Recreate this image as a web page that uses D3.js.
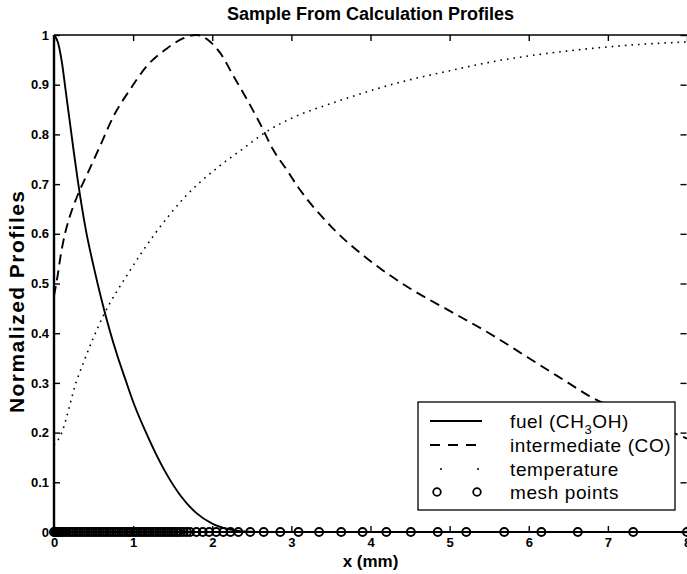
<!DOCTYPE html>
<html>
<head>
<meta charset="utf-8">
<script src="https://cdn.jsdelivr.net/npm/d3@7"></script>
<style>
html,body{margin:0;padding:0;background:#fff;}
svg{display:block;}
text{font-family:"Liberation Sans",Arial,Helvetica,sans-serif;fill:#000;}
</style>
</head>
<body>
<svg id="chart" width="687" height="574"></svg>
<script>
// ---- data ----
const xTicks = [0,1,2,3,4,5,6,7,8];
const xTickLabels = ["0","1","2","3","4","5","6","7","8"];
const yTicks = [0,0.1,0.2,0.3,0.4,0.5,0.6,0.7,0.8,0.9,1];
const yTickLabels = ["0","0.1","0.2","0.3","0.4","0.5","0.6","0.7","0.8","0.9","1"];

const fuelX = [0,0.05,0.1,0.15,0.2,0.25,0.3,0.4,0.5,0.6,0.7,0.8,0.9,1.0,1.2,1.4,1.6,1.8,2.0,2.2,2.4,2.7,3.5,5,6.5,8];
const fuelY = [1,0.985,0.945,0.885,0.825,0.765,0.708,0.61,0.535,0.468,0.408,0.355,0.308,0.262,0.187,0.123,0.073,0.038,0.017,0.006,0.001,0,0,0,0,0];

const coX = [0,0.05,0.076,0.14,0.2,0.31,0.42,0.58,0.75,0.96,1.17,1.42,1.63,1.8,1.97,2.1,2.27,2.44,2.6,2.77,2.94,3.08,3.5,4,4.5,5,5.5,6,6.5,6.75,7.3,8];
const coY = [0.475,0.52,0.548,0.601,0.635,0.682,0.72,0.776,0.836,0.89,0.937,0.972,0.993,1.0,0.987,0.964,0.917,0.87,0.823,0.769,0.729,0.695,0.615,0.545,0.49,0.445,0.40,0.35,0.30,0.275,0.235,0.188];

const tempX = [0,0.076,0.29,0.37,0.62,0.94,1.28,1.66,2.08,2.37,2.69,3.11,3.5,4,4.5,5,5.5,6,6.5,7,7.5,8];
const tempY = [0.175,0.192,0.306,0.34,0.434,0.521,0.601,0.675,0.735,0.769,0.806,0.84,0.862,0.888,0.91,0.928,0.945,0.958,0.968,0.976,0.982,0.986];

const meshX = [0,0.01,0.02,0.035,0.05,0.07,0.09,0.11,0.13,0.16,0.19,0.22,0.25,0.28,0.31,0.34,0.37,0.40,0.43,0.46,0.49,0.52,0.55,0.58,0.61,0.64,0.67,0.70,0.73,0.76,0.79,0.82,0.85,0.88,0.91,0.94,0.97,1.0,1.03,1.06,1.09,1.12,1.15,1.18,1.21,1.24,1.27,1.30,1.33,1.36,1.39,1.42,1.45,1.48,1.51,1.54,1.57,1.60,1.64,1.68,1.72,1.80,1.88,1.96,2.05,2.14,2.23,2.33,2.48,2.65,2.86,3.09,3.35,3.63,3.90,4.20,4.51,4.85,5.21,5.69,6.16,6.62,7.32,8.0];

const legendLabels = ["fuel (CH", "intermediate (CO)", "temperature", "mesh points"];

// ---- layout ----
const svg = d3.select("#chart");
const L = 54, R = 687, T = 35, B = 532;
const x = d3.scaleLinear().domain([0,8]).range([L,R]);
const y = d3.scaleLinear().domain([0,1]).range([B,T]);

const plot = svg.append("g");
const line = (xs, ys, curve) => d3.line().x(d=>x(d[0])).y(d=>y(d[1])).curve(curve)(xs.map((v,i)=>[v,ys[i]]));

// temperature dotted
plot.append("path").attr("d", line(tempX,tempY,d3.curveMonotoneX))
  .attr("fill","none").attr("stroke","#000").attr("stroke-width",1.6)
  .attr("stroke-dasharray","1.6 5");
// intermediate dashed
plot.append("path").attr("d", line(coX,coY,d3.curveMonotoneX))
  .attr("fill","none").attr("stroke","#000").attr("stroke-width",1.9)
  .attr("stroke-dasharray","10 6");
// fuel solid
plot.append("path").attr("d", line(fuelX,fuelY,d3.curveMonotoneX))
  .attr("fill","none").attr("stroke","#000").attr("stroke-width",1.9);

// mesh points
plot.selectAll("circle.mesh").data(meshX).enter().append("circle")
  .attr("class","mesh").attr("cx",d=>x(d)).attr("cy",y(0)).attr("r",4)
  .attr("fill","none").attr("stroke","#000").attr("stroke-width",1.9);

// ---- axes ----
const fontTick = "bold 13px 'Liberation Sans', Arial, sans-serif";
const gx = svg.append("g").attr("transform",`translate(0,${B})`)
  .call(d3.axisBottom(x).tickValues(xTicks).tickFormat((d,i)=>xTickLabels[i]).tickSize(-6).tickPadding(6));
const gy = svg.append("g").attr("transform",`translate(${L},0)`)
  .call(d3.axisLeft(y).tickValues(yTicks).tickFormat((d,i)=>yTickLabels[i]).tickSize(-6).tickPadding(5));
const gt = svg.append("g").attr("transform",`translate(0,${T})`)
  .call(d3.axisTop(x).tickValues(xTicks).tickFormat("").tickSize(-6));
const gr = svg.append("g").attr("transform",`translate(${R-0.5},0)`)
  .call(d3.axisRight(y).tickValues(yTicks).tickFormat("").tickSize(-6));
[gx,gy,gt,gr].forEach(g=>{
  g.select(".domain").remove();
  g.selectAll(".tick line").attr("stroke","#000").attr("stroke-width",1.4);
  g.selectAll(".tick text").style("font",fontTick).attr("fill","#000");
});
// box
svg.append("line").attr("x1",L).attr("x2",L).attr("y1",T).attr("y2",B).attr("stroke","#000").attr("stroke-width",2.4);
svg.append("line").attr("x1",L).attr("x2",R).attr("y1",B).attr("y2",B).attr("stroke","#000").attr("stroke-width",2);
svg.append("line").attr("x1",L).attr("x2",R).attr("y1",T).attr("y2",T).attr("stroke","#000").attr("stroke-width",1.6);

// ---- titles ----
svg.append("text").attr("x",(L+R)/2).attr("y",20).attr("text-anchor","middle")
  .style("font","bold 18px 'Liberation Sans', Arial, sans-serif").text("Sample From Calculation Profiles");
svg.append("text").attr("x",(L+R)/2).attr("y",567).attr("text-anchor","middle")
  .style("font","bold 17px 'Liberation Sans', Arial, sans-serif").text("x (mm)");
svg.append("text").attr("transform","translate(24,302) rotate(-90)").attr("text-anchor","middle")
  .attr("textLength",222).attr("lengthAdjust","spacing")
  .style("font","bold 21px 'Liberation Sans', Arial, sans-serif").text("Normalized Profiles");

// ---- legend ----
const lg = svg.append("g");
lg.append("rect").attr("x",418).attr("y",402).attr("width",257).attr("height",108)
  .attr("fill","#fff").attr("stroke","#000").attr("stroke-width",1.3);
const rows = [421,445,469,492];
const lfont = "19px 'Liberation Sans', Arial, sans-serif";
lg.append("line").attr("x1",430).attr("x2",482).attr("y1",rows[0]).attr("y2",rows[0]).attr("stroke","#000").attr("stroke-width",1.8);
lg.append("line").attr("x1",430).attr("x2",484).attr("y1",rows[1]).attr("y2",rows[1]).attr("stroke","#000").attr("stroke-width",1.8).attr("stroke-dasharray","10 8");
[441,478].forEach(cx=>lg.append("circle").attr("cx",cx).attr("cy",rows[2]).attr("r",1).attr("fill","#000"));
[437,477].forEach(cx=>lg.append("circle").attr("cx",cx).attr("cy",rows[3]).attr("r",3.8).attr("fill","none").attr("stroke","#000").attr("stroke-width",1.8));
const t0 = lg.append("text").attr("x",510).attr("y",rows[0]).attr("dy","0.35em").style("font",lfont).style("letter-spacing","0.6px");
t0.append("tspan").text(legendLabels[0]);
t0.append("tspan").attr("dy",6).style("font-size","13px").text("3");
t0.append("tspan").attr("dy",-6).text("OH)");
legendLabels.slice(1).forEach((s,i)=>{
  lg.append("text").attr("x",510).attr("y",rows[i+1]).attr("dy","0.35em").style("font",lfont).style("letter-spacing","0.6px").text(s);
});
</script>
</body>
</html>
